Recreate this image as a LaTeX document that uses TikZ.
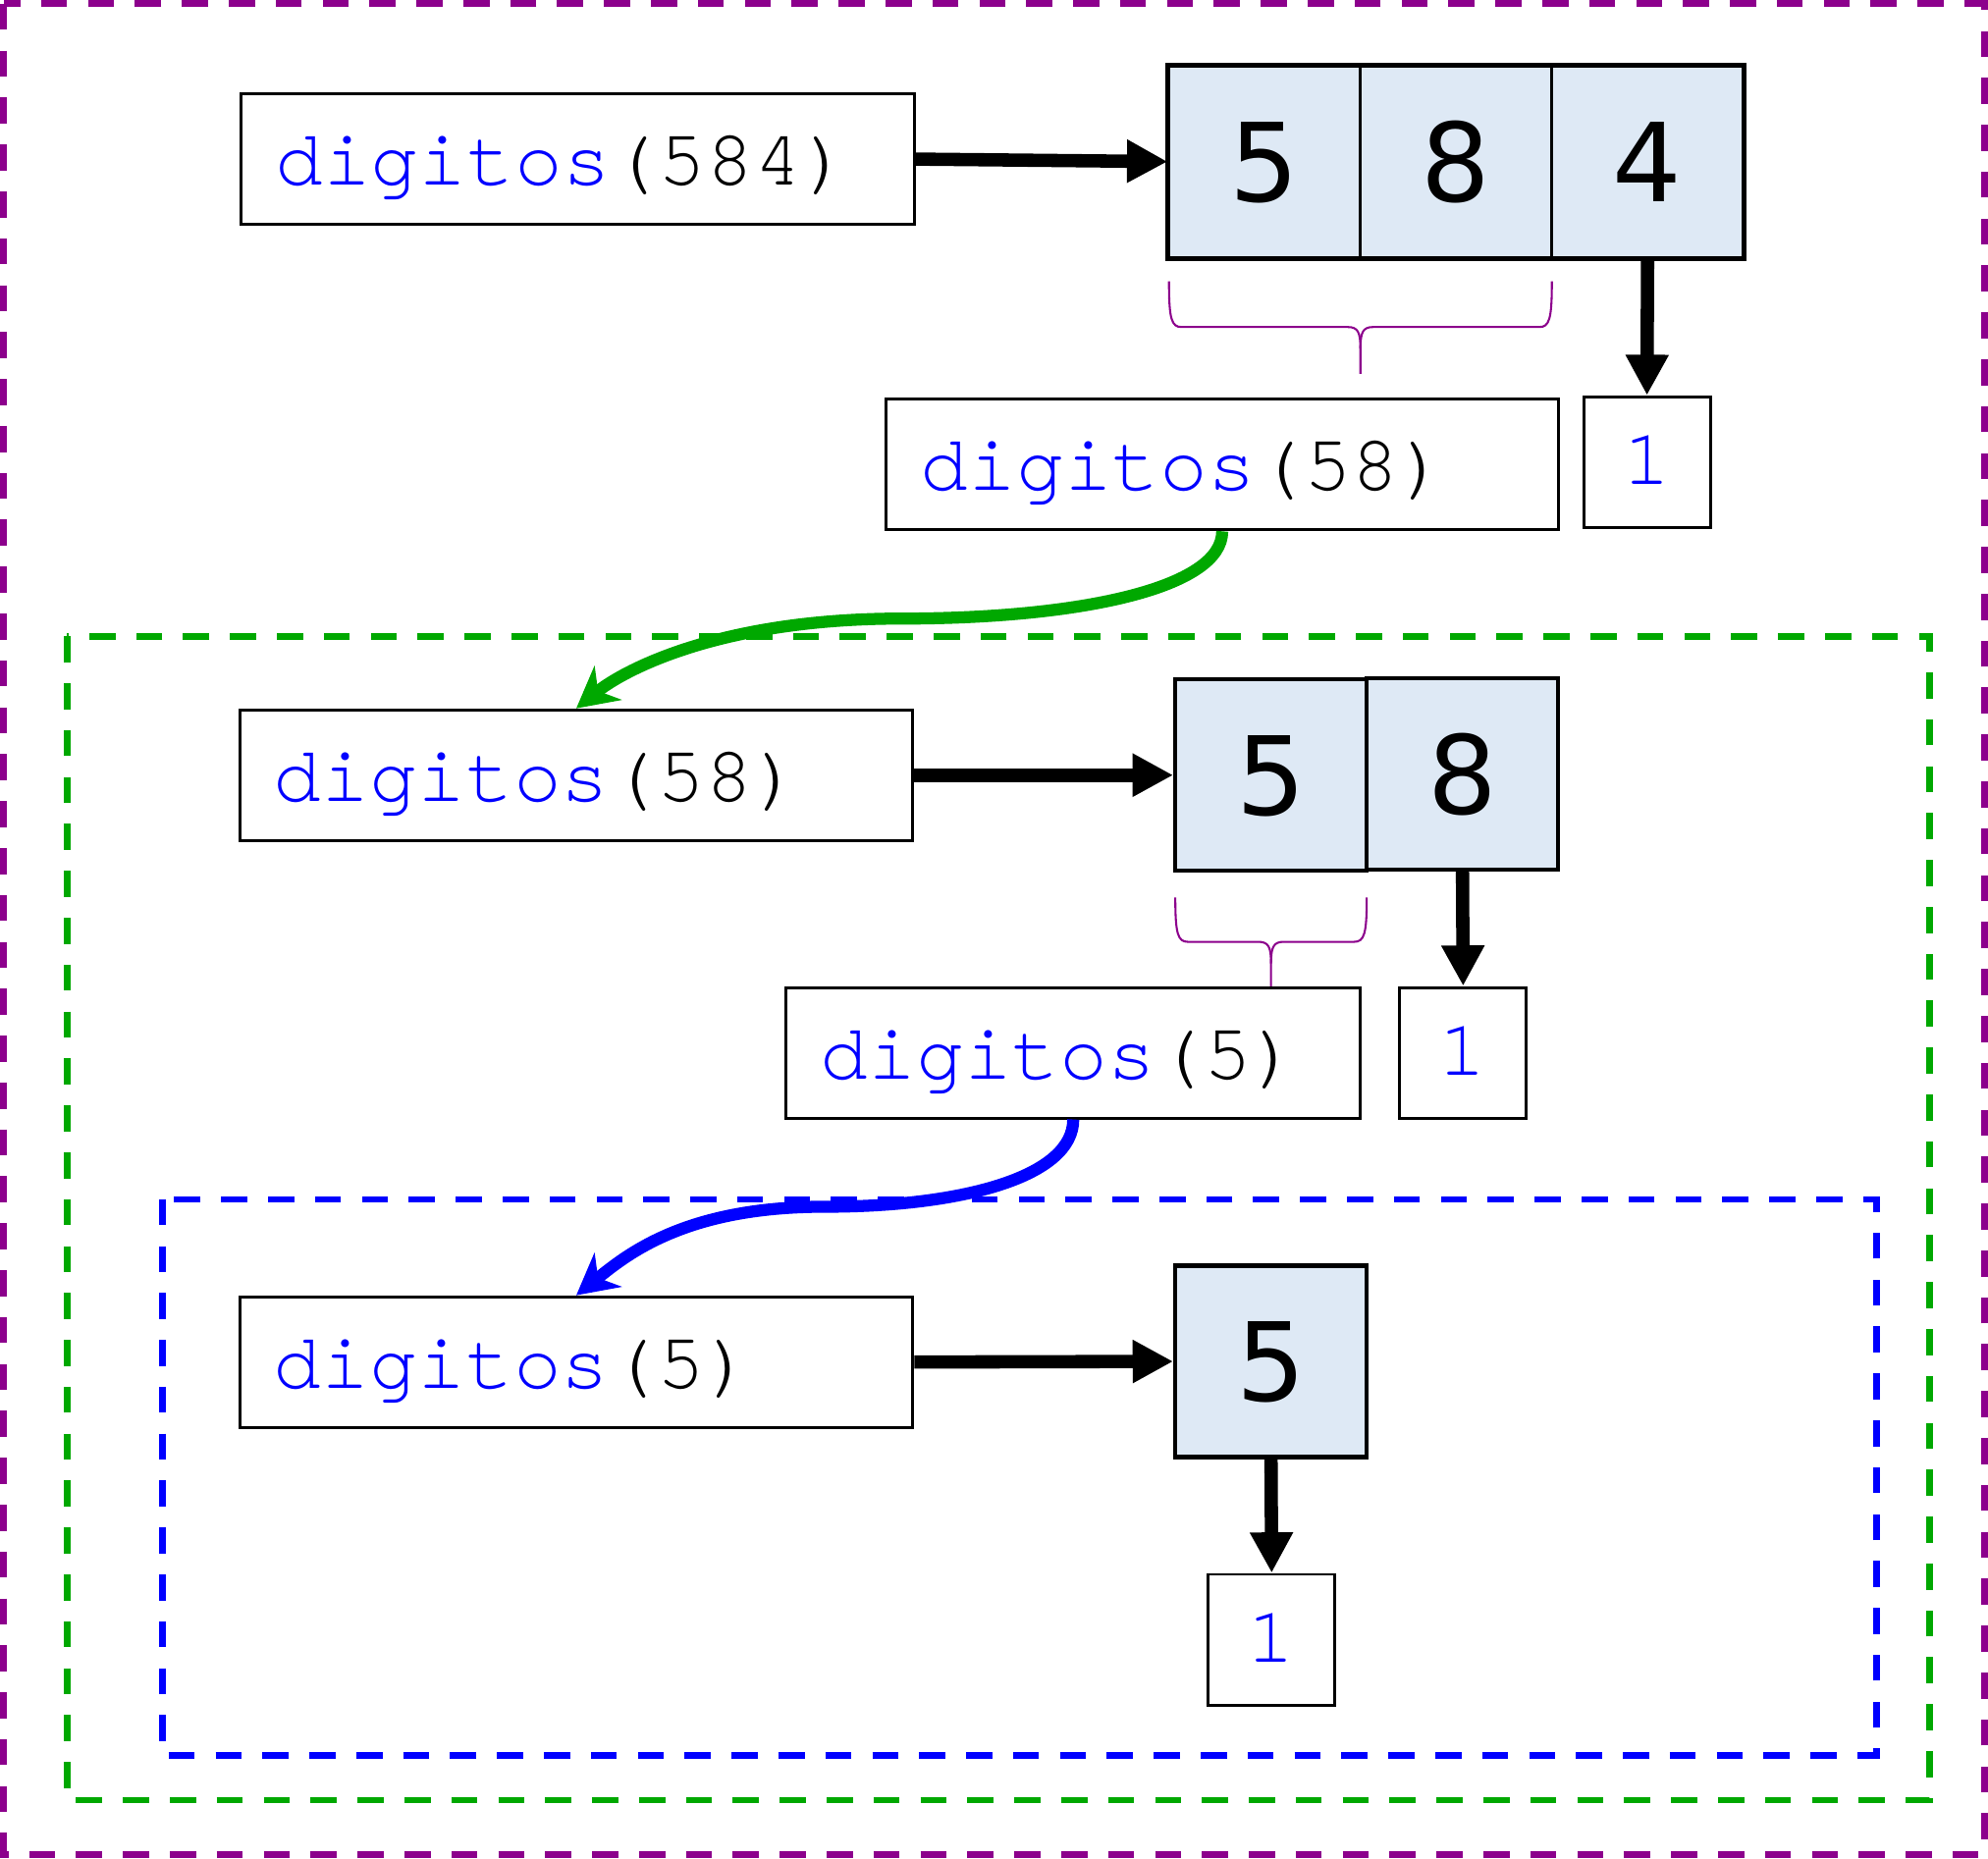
\documentclass[tikz,border=0pt]{standalone}
\usepackage{fontspec}
\setmainfont{DejaVu Sans}
\newfontfamily\codefont{TeX Gyre Cursor}
\usetikzlibrary{arrows.meta}
\definecolor{cellblue}{HTML}{DEE9F5}
\definecolor{frmpurple}{RGB}{140,0,140}
\definecolor{frmgreen}{RGB}{0,168,0}
\definecolor{frmblue}{RGB}{0,0,255}
\newcommand{\dig}[1]{\textcolor{frmblue}{digitos}(#1)}
\tikzset{
  callbox/.style={draw, line width=2.3pt, minimum height=103pt, text width=#1, align=left,
    inner xsep=27pt, inner ysep=0pt, text height=50pt, text depth=9pt,
    font=\codefont\fontsize{63}{76}\selectfont},
  onebox/.style={draw, line width=2.3pt, minimum width=100pt, minimum height=103pt, inner sep=0pt,
    text=frmblue, text height=45pt, text depth=10pt, font=\codefont\fontsize{63}{76}\selectfont},
  cell/.style={draw, fill=cellblue, line width=2.2pt, minimum width=151pt, minimum height=151pt,
    inner sep=0pt, text height=63pt, text depth=0pt, font=\fontsize{86}{100}\selectfont},
  thickcell/.style={cell, line width=3.3pt},
  blk/.style={line width=10.5pt, -{Triangle[length=32pt,width=32pt]}},
  curvearrow/.style={line width=9.5pt, -{Stealth[length=32pt,width=34pt,inset=10pt]}},
  dashpat/.style={dash pattern=on 20.6pt off 16.4pt},
  bracepath/.style={frmpurple, line width=1.6pt}
}
\begin{document}
\begin{tikzpicture}[x=1pt,y=-1pt]
\useasboundingbox (0,0) rectangle (1568,1466);

% frames
\draw[frmpurple, line width=5.5pt, dashpat] (3,3) rectangle (1565,1463);
\draw[frmgreen, line width=5pt, dashpat] (53,502) rectangle (1522,1420);
\draw[frmblue, line width=5pt, dashpat] (128,946) rectangle (1480,1385);

% row 1
\node[callbox=477pt] (a1) at (455.5,125.5) {\dig{584}};
\node[cell] (c11) at (997.5,127.5) {5};
\node[cell] (c12) at (1148.5,127.5) {8};
\node[cell] (c13) at (1299.5,127.5) {4};
\draw[line width=3.4pt] (c11.north west) rectangle (c13.south east);
\node[onebox] (o1) at (1299,364.5) {1};
\node[callbox=476pt] (a2) at (964,366.5) {\dig{58}};
\draw[blk] (a1.east) -- (c11.west);
\draw[blk] (c13.south) -- (o1.north);
% brace 1
\coordinate (b1l) at (922,222);
\coordinate (b1r) at (1224,222);
\coordinate (b1t) at (1073,295);
\draw[bracepath] (b1l) .. controls (922,252) and (924,258) .. (932,258) -- (1063,258)
  .. controls (1071,258) and (1073,262) .. (1073,275) -- (b1t);
\draw[bracepath] (b1r) .. controls (1224,252) and (1222,258) .. (1214,258) -- (1083,258)
  .. controls (1075,258) and (1073,262) .. (1073,275);

% row 2
\node[callbox=477pt] (b1) at (454.5,611.5) {\dig{58}};
\node[thickcell] (c21) at (1002.5,611.5) {5};
\node[thickcell] (c22) at (1153.5,610.5) {8};
\node[onebox] (o2) at (1154,830.5) {1};
\node[callbox=399pt] (b2) at (846.5,830.5) {\dig{5}};
\draw[blk] (b1.east) -- (c21.west);
\draw[blk] (c22.south) -- (o2.north);
% brace 2
\coordinate (b2l) at (927,708);
\coordinate (b2r) at (1078,708);
\coordinate (b2t) at (1002.5,778);
\draw[bracepath] (b2l) .. controls (927,737) and (929,743) .. (937,743) -- (992.5,743)
  .. controls (1000.5,743) and (1002.5,747) .. (1002.5,760) -- (b2t);
\draw[bracepath] (b2r) .. controls (1078,737) and (1076,743) .. (1068,743) -- (1012.5,743)
  .. controls (1004.5,743) and (1002.5,747) .. (1002.5,760);

% row 3
\node[callbox=477pt] (cc1) at (454.5,1074.5) {\dig{5}};
\node[thickcell] (c31) at (1002.5,1074) {5};
\node[onebox] (o3) at (1003,1293.5) {1};
\draw[blk] (cc1.east) -- (c31.west);
\draw[blk] (c31.south) -- (o3.north);

% recursive calls
\coordinate (gm) at (711,488);
\coordinate (bm) at (650,952);
\draw[curvearrow, frmgreen] (a2.south) .. controls +(0,45) and +(140,0) .. (gm)
  .. controls +(-140,0) and +(40,-32) .. (b1.north);
\draw[curvearrow, frmblue] (b2.south) .. controls +(0,45) and +(110,0) .. (bm)
  .. controls +(-110,0) and +(40,-32) .. (cc1.north);
\end{tikzpicture}
\end{document}
